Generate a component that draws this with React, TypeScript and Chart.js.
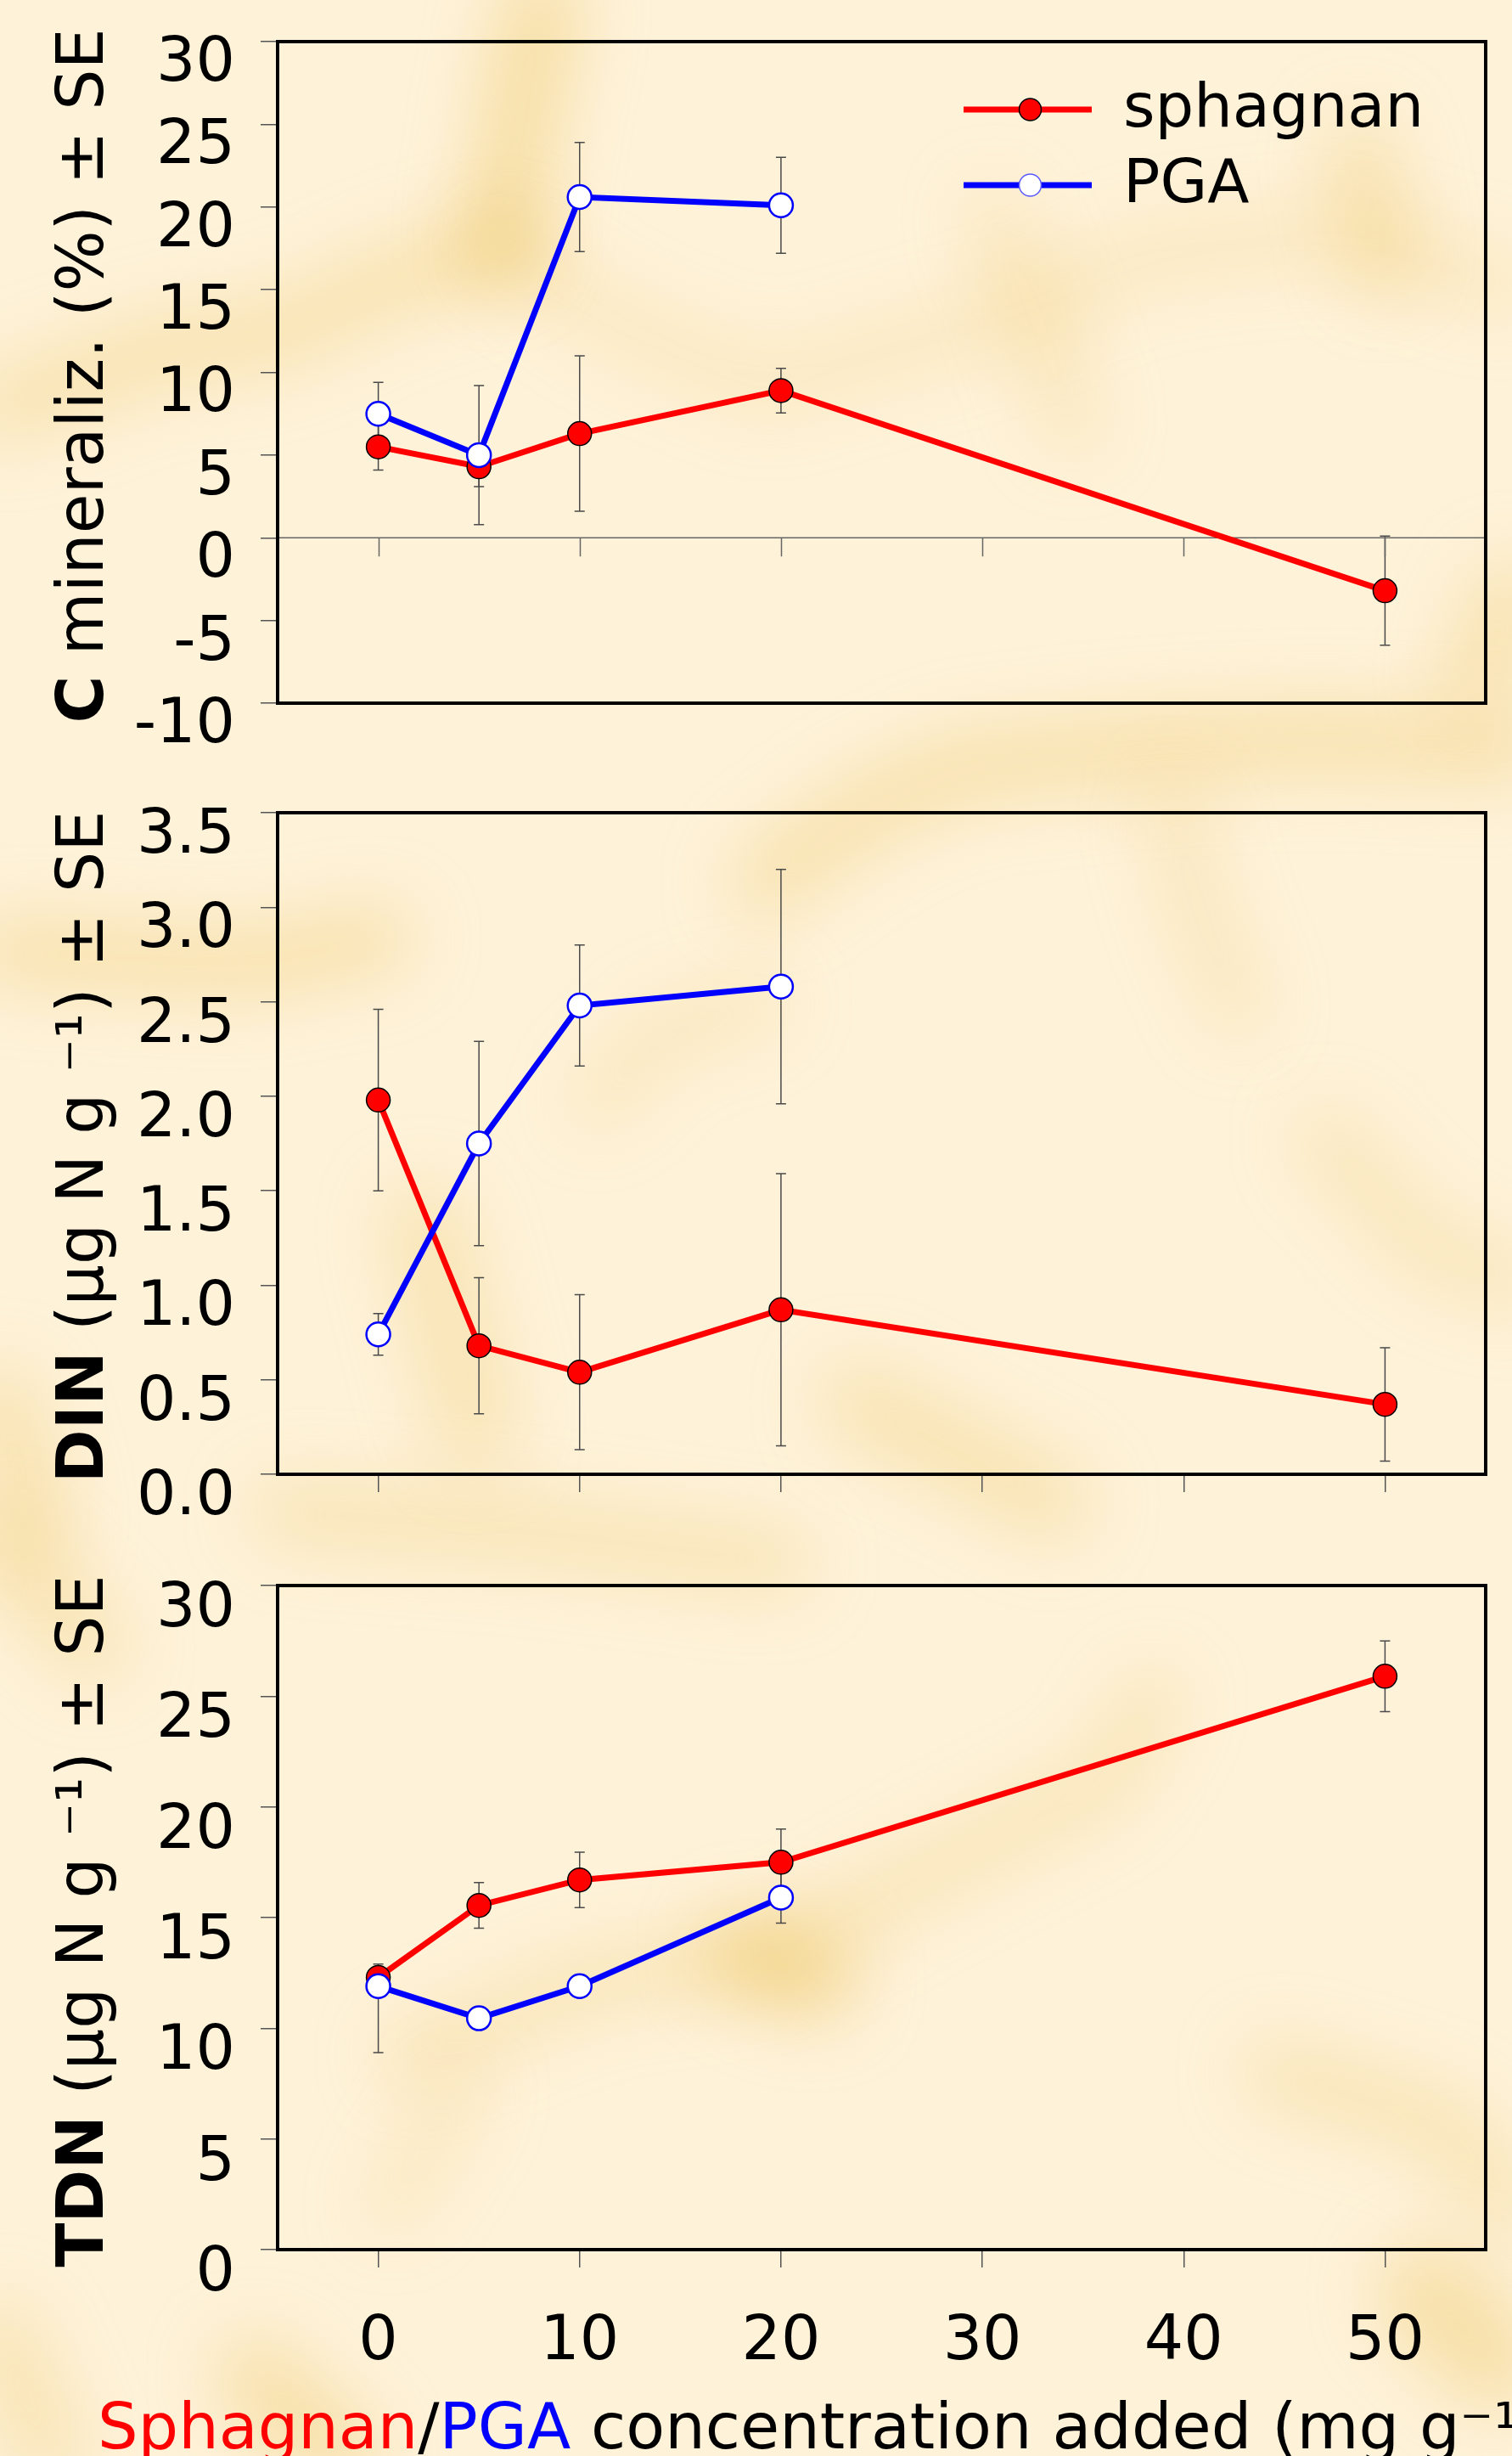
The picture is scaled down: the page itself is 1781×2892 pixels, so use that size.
import React, { useEffect, useRef } from "react";
import { Chart, registerables } from "chart.js";

Chart.register(...registerables);

const FONT = "'DejaVu Sans', Verdana, sans-serif";

// ---------- data ----------
const xTickValues = [0, 10, 20, 30, 40, 50];
const sphagnanX = [0, 5, 10, 20, 50];
const pgaX = [0, 5, 10, 20];

// C mineralization (%)
const cminTicks = [-10, -5, 0, 5, 10, 15, 20, 25, 30];
const cminSph = [5.5, 4.3, 6.3, 8.9, -3.2];
const cminSphSE = [1.4, 1.2, 4.7, 1.35, 3.3];
const cminPga = [7.5, 5.0, 20.6, 20.1];
const cminPgaSE = [1.9, 4.2, 3.3, 2.9];

// DIN (ug N g-1)
const dinTicks = [0, 0.5, 1.0, 1.5, 2.0, 2.5, 3.0, 3.5];
const dinSph = [1.98, 0.68, 0.54, 0.87, 0.37];
const dinSphSE = [0.48, 0.36, 0.41, 0.72, 0.3];
const dinPga = [0.74, 1.75, 2.48, 2.58];
const dinPgaSE = [0.11, 0.54, 0.32, 0.62];

// TDN (ug N g-1)
const tdnTicks = [0, 5, 10, 15, 20, 25, 30];
const tdnSph = [12.3, 15.55, 16.7, 17.5, 25.9];
const tdnSphSE = [0.6, 1.03, 1.25, 1.5, 1.6];
const tdnPga = [11.9, 10.45, 11.9, 15.9];
const tdnPgaSE: (number | [number, number])[] = [[3.0, 0.4], 0.3, 0.3, 1.15];

// ---------- layout (not data) ----------
const PANELS = [
  {
    top: 0, height: 905, areaTop: 49, padBottom: 77, xDisplay: false, xHeight: 0,
    xLabels: false, zeroAxis: true, legend: true, xTitle: false,
    yTicks: cminTicks, decimals: 0, labelOffset: 27,
    title: [{ t: "C", bold: true }, { t: " mineraliz. (%) ± SE" }],
    sph: cminSph, sphSE: cminSphSE, pga: cminPga, pgaSE: cminPgaSE,
  },
  {
    top: 905, height: 905, areaTop: 52, padBottom: 53, xDisplay: true, xHeight: 21,
    xLabels: false, zeroAxis: false, legend: false, xTitle: false,
    yTicks: dinTicks, decimals: 1, labelOffset: 28,
    title: [{ t: "DIN", bold: true }, { t: " (µg N g ⁻¹) ± SE" }],
    sph: dinSph, sphSE: dinSphSE, pga: dinPga, pgaSE: dinPgaSE,
  },
  {
    top: 1810, height: 1082, areaTop: 57, padBottom: 0, xDisplay: true, xHeight: 243,
    xLabels: true, zeroAxis: false, legend: false, xTitle: true,
    yTicks: tdnTicks, decimals: 0, labelOffset: 29,
    title: [{ t: "TDN", bold: true }, { t: " (µg N g ⁻¹) ± SE" }],
    sph: tdnSph, sphSE: tdnSphSE, pga: tdnPga, pgaSE: tdnPgaSE,
  },
];

// decorative background veins (page coordinates)
const VEINS: { w: number; a: number; p: number[][] }[] = [
  { w: 80, a: 0.45, p: [[640, 0], [615, 120], [590, 290]] },
  { w: 80, a: 0.32, p: [[0, 480], [200, 410], [330, 392], [460, 330], [590, 290]] },
  { w: 60, a: 0.22, p: [[590, 290], [720, 380], [900, 455], [1180, 375], [1350, 300], [1575, 275], [1781, 340]] },
  { w: 60, a: 0.25, p: [[1170, 253], [1220, 370], [1265, 505]] },
  { w: 70, a: 0.35, p: [[1600, 170], [1630, 310]] },
  { w: 80, a: 0.35, p: [[1781, 700], [1740, 800]] },
  { w: 80, a: 0.35, p: [[900, 1040], [1010, 960], [1125, 905], [1350, 880], [1550, 870], [1781, 880]] },
  { w: 60, a: 0.25, p: [[1380, 950], [1410, 1070], [1460, 1190]] },
  { w: 70, a: 0.38, p: [[0, 1120], [290, 1135], [450, 1105]] },
  { w: 55, a: 0.25, p: [[700, 1300], [780, 1215], [900, 1180]] },
  { w: 90, a: 0.3, p: [[500, 1440], [560, 1680]] },
  { w: 80, a: 0.35, p: [[0, 1650], [40, 1800]] },
  { w: 90, a: 0.3, p: [[1010, 1650], [1240, 1770]] },
  { w: 70, a: 0.25, p: [[1560, 1340], [1680, 1470], [1781, 1510]] },
  { w: 70, a: 0.3, p: [[330, 1780], [600, 1800], [920, 1840]] },
  { w: 80, a: 0.3, p: [[0, 1820], [110, 1940]] },
  { w: 60, a: 0.3, p: [[480, 2420], [700, 2330], [920, 2300], [1100, 2200], [1300, 2100], [1360, 2000]] },
  { w: 90, a: 0.5, p: [[880, 2300], [960, 2330]] },
  { w: 55, a: 0.22, p: [[545, 2460], [460, 2600]] },
  { w: 90, a: 0.4, p: [[300, 2800], [400, 2892]] },
  { w: 70, a: 0.3, p: [[1500, 2440], [1700, 2500], [1781, 2600]] },
  { w: 110, a: 0.4, p: [[1680, 2700], [1760, 2780]] },
  { w: 80, a: 0.3, p: [[0, 2750], [60, 2892]] },
];

const RED = "#ff0000";
const BLUE = "#0000ff";

function pts(xs: number[], ys: number[]) {
  return xs.map((x, i) => ({ x, y: ys[i] }));
}

const backgroundPlugin = {
  id: "paperBg",
  beforeDraw(chart: any, _args: any, opts: any) {
    const ctx = chart.ctx;
    const w = chart.width, h = chart.height;
    ctx.save();
    ctx.fillStyle = "#fef2d9";
    ctx.fillRect(0, 0, w, h);
    ctx.translate(0, -opts.offset);
    ctx.filter = "blur(42px)";
    ctx.lineCap = "round";
    ctx.lineJoin = "round";
    for (const v of VEINS) {
      ctx.lineWidth = v.w;
      ctx.strokeStyle = `rgba(236, 192, 84, ${v.a})`;
      ctx.beginPath();
      v.p.forEach(([x, y], i) => (i ? ctx.lineTo(x, y) : ctx.moveTo(x, y)));
      ctx.stroke();
    }
    ctx.filter = "none";
    ctx.restore();
  },
};

const errorBarPlugin = {
  id: "errorBars",
  beforeDatasetsDraw(chart: any) {
    const { ctx } = chart;
    const xs = chart.scales.x, ys = chart.scales.y;
    ctx.save();
    ctx.strokeStyle = "#4a4a4a";
    ctx.lineWidth = 1.5;
    chart.data.datasets.forEach((ds: any) => {
      if (!ds.se) return;
      ds.data.forEach((pt: any, i: number) => {
        const e = ds.se[i];
        const lo = Array.isArray(e) ? e[0] : e;
        const hi = Array.isArray(e) ? e[1] : e;
        const px = xs.getPixelForValue(pt.x);
        const y1 = ys.getPixelForValue(pt.y + hi);
        const y2 = ys.getPixelForValue(pt.y - lo);
        ctx.beginPath();
        ctx.moveTo(px, y1); ctx.lineTo(px, y2);
        ctx.moveTo(px - 6, y1); ctx.lineTo(px + 6, y1);
        ctx.moveTo(px - 6, y2); ctx.lineTo(px + 6, y2);
        ctx.stroke();
      });
    });
    ctx.restore();
  },
};

const zeroAxisPlugin = {
  id: "zeroAxis",
  beforeDatasetsDraw(chart: any, _a: any, opts: any) {
    if (!opts.enabled) return;
    const { ctx, chartArea } = chart;
    const xs = chart.scales.x, ys = chart.scales.y;
    const y0 = ys.getPixelForValue(0);
    ctx.save();
    ctx.strokeStyle = "#666";
    ctx.lineWidth = 1.5;
    ctx.beginPath();
    ctx.moveTo(chartArea.left, y0);
    ctx.lineTo(chartArea.right, y0);
    for (const v of xTickValues) {
      const px = Math.round(xs.getPixelForValue(v)) + 0.5;
      ctx.moveTo(px, y0);
      ctx.lineTo(px, y0 + 22);
    }
    ctx.stroke();
    ctx.restore();
  },
};

const framePlugin = {
  id: "frame",
  afterDraw(chart: any) {
    const { ctx, chartArea } = chart;
    ctx.save();
    ctx.strokeStyle = "#000";
    ctx.lineWidth = 4;
    ctx.strokeRect(chartArea.left, chartArea.top, chartArea.right - chartArea.left, chartArea.bottom - chartArea.top);
    ctx.restore();
  },
};

const yTitlePlugin = {
  id: "yTitle",
  afterDraw(chart: any, _a: any, opts: any) {
    const { ctx, chartArea } = chart;
    const segs = opts.segments as any[];
    const fontFor = (s: any) => (s.bold ? `bold 76px ${FONT}` : `76px ${FONT}`);
    let total = 0;
    const widths = segs.map((s) => {
      ctx.font = fontFor(s);
      const w = ctx.measureText(s.t).width;
      total += w;
      return w;
    });
    const cy = (chartArea.top + chartArea.bottom) / 2 + 4;
    ctx.save();
    ctx.translate(121, cy);
    ctx.rotate(-Math.PI / 2);
    ctx.fillStyle = "#000";
    ctx.textBaseline = "alphabetic";
    ctx.textAlign = "left";
    let x = -total / 2;
    segs.forEach((s, i) => {
      ctx.font = fontFor(s);
      ctx.fillText(s.t, x, 0);
      x += widths[i];
    });
    ctx.restore();
  },
};

const xTitlePlugin = {
  id: "xTitle",
  afterDraw(chart: any, _a: any, opts: any) {
    if (!opts.enabled) return;
    const { ctx } = chart;
    const segs = [
      { t: "Sphagnan", c: RED },
      { t: "/", c: "#000" },
      { t: "PGA", c: BLUE },
      { t: " concentration added (mg g⁻¹)", c: "#000" },
    ];
    ctx.save();
    ctx.textBaseline = "alphabetic";
    ctx.textAlign = "left";
    ctx.font = `75px ${FONT}`;
    let x = 115;
    const base = chart.height - 9;
    for (const s of segs) {
      ctx.fillStyle = s.c;
      ctx.fillText(s.t, x, base);
      x += ctx.measureText(s.t).width;
    }
    ctx.restore();
  },
};

const legendPlugin = {
  id: "lineLegend",
  afterDraw(chart: any, _a: any, opts: any) {
    if (!opts.enabled) return;
    const { ctx } = chart;
    ctx.save();
    chart.data.datasets.forEach((ds: any, i: number) => {
      const y = 129 + i * 89;
      ctx.strokeStyle = ds.borderColor;
      ctx.lineWidth = 7;
      ctx.beginPath();
      ctx.moveTo(1135, y);
      ctx.lineTo(1286, y);
      ctx.stroke();
      ctx.beginPath();
      ctx.arc(1213.5, y, 13, 0, Math.PI * 2);
      ctx.fillStyle = ds.pointBackgroundColor;
      ctx.fill();
      ctx.lineWidth = 1.5;
      ctx.strokeStyle = ds.label === "PGA" ? "#5a5aff" : ds.pointBorderColor;
      ctx.stroke();
      ctx.fillStyle = "#000";
      ctx.font = `72px ${FONT}`;
      ctx.textBaseline = "middle";
      ctx.textAlign = "left";
      ctx.fillText(ds.label, 1323, y + 1);
    });
    ctx.restore();
  },
};

function makeChart(canvas: HTMLCanvasElement, p: any) {
  const yMin = p.yTicks[0];
  const yMax = p.yTicks[p.yTicks.length - 1];
  return new Chart(canvas, {
    type: "line",
    data: {
      datasets: [
        {
          label: "sphagnan",
          data: pts(sphagnanX, p.sph),
          se: p.sphSE,
          borderColor: RED,
          borderWidth: 7,
          pointRadius: 14,
          pointBorderWidth: 1.5,
          pointBackgroundColor: RED,
          pointBorderColor: "#000",
          tension: 0,
          fill: false,
          order: 1,
        } as any,
        {
          label: "PGA",
          data: pts(pgaX, p.pga),
          se: p.pgaSE,
          borderColor: BLUE,
          borderWidth: 7,
          pointRadius: 14,
          pointBorderWidth: 2.5,
          pointBackgroundColor: "#ffffff",
          pointBorderColor: BLUE,
          tension: 0,
          fill: false,
          order: 0,
        } as any,
      ],
    },
    options: {
      animation: false,
      responsive: false,
      devicePixelRatio: 1,
      events: [],
      layout: { padding: { left: 0, right: 31, top: p.areaTop, bottom: p.padBottom } },
      scales: {
        x: {
          type: "linear",
          min: -5,
          max: 55,
          display: p.xDisplay,
          afterBuildTicks: (s: any) => {
            s.ticks = xTickValues.map((v) => ({ value: v }));
          },
          afterFit: (s: any) => {
            s.height = p.xHeight;
            s.paddingLeft = 0;
            s.paddingRight = 0;
          },
          grid: { drawOnChartArea: false, drawTicks: true, tickLength: 21, color: "#555", lineWidth: 1.5 },
          border: { display: false },
          ticks: {
            display: p.xLabels,
            autoSkip: false,
            maxRotation: 0,
            padding: 45,
            color: "#000",
            font: { family: FONT, size: 73 },
            callback: (v: any) => String(v),
          },
        },
        y: {
          type: "linear",
          min: yMin,
          max: yMax,
          afterBuildTicks: (s: any) => {
            s.ticks = p.yTicks.map((v: number) => ({ value: v }));
          },
          afterFit: (s: any) => {
            s.width = 327;
            s.paddingTop = 0;
            s.paddingBottom = 0;
          },
          grid: { drawOnChartArea: false, drawTicks: true, tickLength: 20, color: "#555", lineWidth: 1.5 },
          border: { display: false },
          ticks: {
            autoSkip: false,
            padding: 30,
            labelOffset: p.labelOffset,
            color: "#000",
            font: { family: FONT, size: 73 },
            callback: (v: any) => Number(v).toFixed(p.decimals),
          },
        },
      },
      plugins: {
        legend: { display: false },
        tooltip: { enabled: false },
        paperBg: { offset: p.top },
        zeroAxis: { enabled: p.zeroAxis },
        yTitle: { segments: p.title },
        xTitle: { enabled: p.xTitle },
        lineLegend: { enabled: p.legend },
      } as any,
    },
    plugins: [backgroundPlugin, errorBarPlugin, zeroAxisPlugin, framePlugin, yTitlePlugin, xTitlePlugin, legendPlugin],
  } as any);
}

export default function App() {
  const refs = useRef<(HTMLCanvasElement | null)[]>([]);
  useEffect(() => {
    const charts = PANELS.map((p, i) => makeChart(refs.current[i] as HTMLCanvasElement, p));
    return () => charts.forEach((c) => c.destroy());
  }, []);
  return (
    <div
      style={{
        position: "absolute",
        left: 0,
        top: 0,
        width: 1781,
        height: 2892,
        overflow: "hidden",
        background: "#fef2d9",
      }}
    >
      {PANELS.map((p, i) => (
        <canvas
          key={i}
          ref={(el) => {
            refs.current[i] = el;
          }}
          width={1781}
          height={p.height}
          style={{ position: "absolute", left: 0, top: p.top, display: "block", width: 1781, height: p.height }}
        />
      ))}
    </div>
  );
}
